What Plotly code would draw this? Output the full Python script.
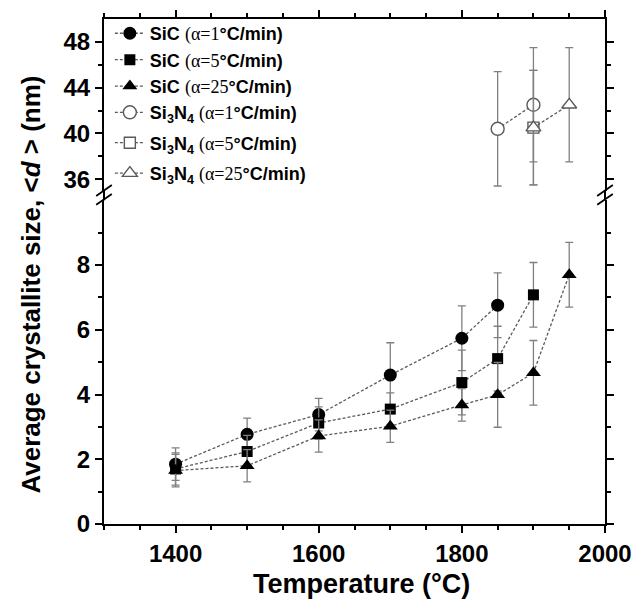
import plotly.graph_objects as go

# ---- data ----
sic1_T = [1400, 1500, 1600, 1700, 1800, 1850]
sic1_d = [1.85, 2.77, 3.38, 4.60, 5.74, 6.76]
sic1_e = [0.5, 0.5, 0.5, 1.0, 1.0, 1.0]

sic5_T = [1400, 1500, 1600, 1700, 1800, 1850, 1900]
sic5_d = [1.70, 2.24, 3.12, 3.55, 4.37, 5.11, 7.08]
sic5_e = [0.5, 0.5, 0.5, 0.5, 1.0, 1.0, 1.0]

sic25_T = [1400, 1500, 1600, 1700, 1800, 1850, 1900, 1950]
sic25_d = [1.65, 1.80, 2.72, 3.02, 3.68, 3.99, 4.67, 7.70]
sic25_e = [0.5, 0.5, 0.5, 0.5, 0.5, 1.0, 1.0, 1.0]

sn1_T = [1850, 1900]
sn1_d = [40.4, 42.5]
sn1_e = [5.0, 5.0]

sn5_T = [1900]
sn5_d = [40.5]
sn5_e = [5.0]

sn25_T = [1900, 1950]
sn25_d = [40.5, 42.5]
sn25_e = [5.0, 5.0]

x_ticks = [1400, 1600, 1800, 2000]
y_low_ticks = [0, 2, 4, 6, 8]
y_up_ticks = [36, 40, 44, 48]

# ---- layout geometry (pixels) ----
W, H = 644, 612
L, R, T, B = 104, 617, 13, 524
PW, PH = R - L, B - T
def px(x):
    return (x - L) / PW
def py(y):
    return (B - y) / PH

low_top = py(196.5)
up_bot = py(186.6)

FONT = "Liberation Sans, Arial, sans-serif"
SERIF = "Liberation Serif"
LINE_C = "#5a5a5a"
ERR_C = "#808080"
OPEN_C = "#5a5a5a"

def lab(name, rate):
    return (f"<b>{name}</b> <span style=\"font-family:{SERIF}\">(α={rate}</span>"
            f"<b>°C/min)</b>")

SI3N4 = "Si<sub>3</sub>N<sub>4</sub>"

fig = go.Figure()

def add(Tv, dv, ev, name, symbol, size, filled, upper, legend, group):
    fig.add_trace(go.Scatter(
        x=Tv, y=dv, name=name, mode="lines+markers",
        xaxis="x2" if upper else "x", yaxis="y2" if upper else "y",
        legend=legend, legendgroup=group,
        line=dict(color=LINE_C, width=1.3, dash="3px,2px"),
        marker=dict(symbol=symbol, size=size,
                    color="black" if filled else "white",
                    line=dict(color="black" if filled else OPEN_C, width=0 if filled else 1.4)),
        error_y=dict(type="data", array=ev, visible=True, color=ERR_C, thickness=1.3, width=4),
    ))

add(sic1_T, sic1_d, sic1_e, lab("SiC", "1"), "circle", 13, True, False, "legend", "a")
add(sic5_T, sic5_d, sic5_e, lab("SiC", "5"), "square", 11, True, False, "legend", "a")
add(sic25_T, sic25_d, sic25_e, lab("SiC", "25"), "triangle-up", 13, True, False, "legend", "a")
add(sn1_T, sn1_d, sn1_e, lab(SI3N4, "1"), "circle", 13, False, True, "legend2", "b1")
add(sn5_T, sn5_d, sn5_e, lab(SI3N4, "5"), "square", 11, False, True, "legend2", "b2")
add(sn25_T, sn25_d, sn25_e, lab(SI3N4, "25"), "triangle-up", 13, False, True, "legend2", "b3")

TICKFONT = dict(family=FONT, size=24, color="black", weight="bold")
axis_common = dict(showline=True, linecolor="black", linewidth=2, ticks="outside",
                   tickcolor="black", tickwidth=2, ticklen=7, showgrid=False, zeroline=False,
                   tickfont=TICKFONT)
MINOR = dict(ticks="outside", ticklen=4, tickwidth=2, tickcolor="black")
LEGFONT = dict(family=FONT, size=18, color="black")

fig.update_layout(
    width=W, height=H, autosize=False,
    margin=dict(l=L, r=W - R, t=T, b=H - B),
    paper_bgcolor="white", plot_bgcolor="white",
    font=dict(family=FONT, color="black"),
    showlegend=True,
    legend=dict(x=px(110), y=py(9), xanchor="left", yanchor="top",
                bgcolor="rgba(0,0,0,0)", font=LEGFONT, itemwidth=30, tracegroupgap=0),
    legend2=dict(x=px(110), y=py(89), xanchor="left", yanchor="top",
                 bgcolor="rgba(0,0,0,0)", font=LEGFONT, itemwidth=30, tracegroupgap=4),
    xaxis=dict(range=[1300, 2000], tickvals=x_ticks, anchor="y", domain=[0, 1],
               minor=dict(dtick=50, **MINOR), **axis_common),
    xaxis2=dict(range=[1300, 2000], tickvals=x_ticks, anchor="y2", side="top", matches="x",
                showticklabels=False, minor=dict(dtick=50, **MINOR),
                **axis_common),
    yaxis=dict(range=[0, 10], domain=[0, low_top], tickvals=y_low_ticks, anchor="x",
               mirror="allticks", minor=dict(tickvals=[1, 3, 5, 7, 9], **MINOR),
               **axis_common),
    yaxis2=dict(range=[35, 50], domain=[up_bot, 1], tickvals=y_up_ticks, anchor="x2",
                mirror="allticks", minor=dict(tickvals=[38, 42, 46], **MINOR),
                **axis_common),
)

# axis titles
fig.add_annotation(text="Temperature (°C)",
                   xref="paper", yref="paper", x=px(368), y=py(585),
                   showarrow=False, font=dict(family=FONT, size=27, color="black", weight="bold"),
                   xanchor="center", yanchor="middle")
fig.add_annotation(text="Average crystallite size, &lt;<i>d</i> &gt; (nm)",
                   xref="paper", yref="paper", x=px(29), y=py(282), textangle=-90,
                   showarrow=False, font=dict(family=FONT, size=26, color="black", weight="bold"),
                   xanchor="center", yanchor="middle")

# axis lines across the break gap and the break marks
shapes = []
for xe in (L, R):
    shapes.append(dict(type="line", xref="paper", yref="paper",
                       x0=px(xe), x1=px(xe), y0=low_top, y1=up_bot,
                       line=dict(color="black", width=2)))
    for dy in (0, 9):
        shapes.append(dict(type="line", xref="paper", yref="paper",
                           x0=px(xe - 8), x1=px(xe + 8), y0=py(201 - dy), y1=py(190 - dy),
                           line=dict(color="black", width=1.8)))
fig.update_layout(shapes=shapes)

fig.write_html("out.html")
